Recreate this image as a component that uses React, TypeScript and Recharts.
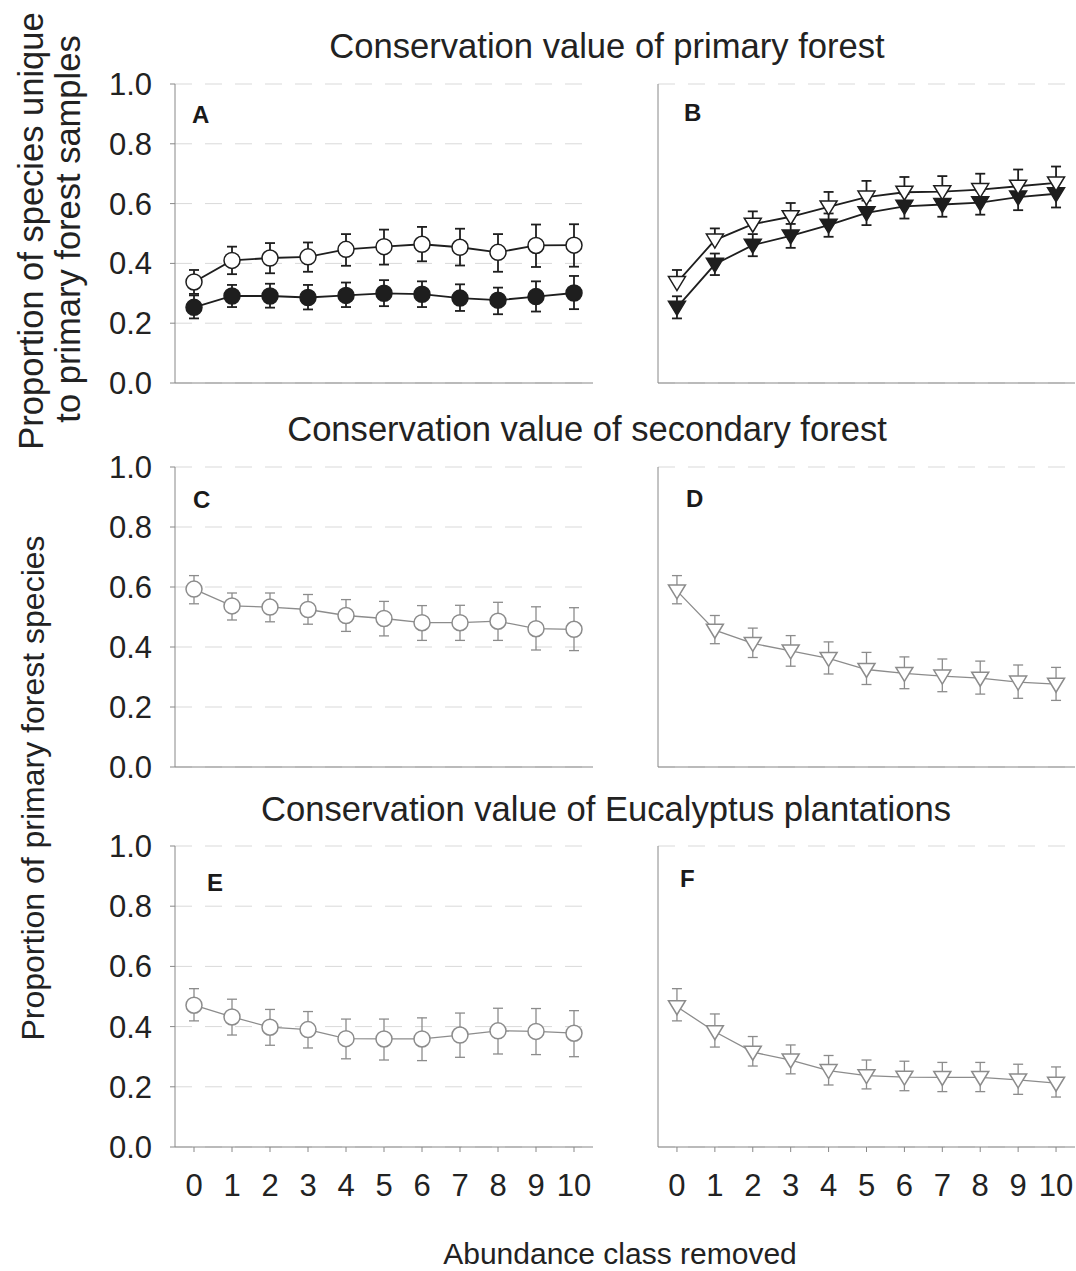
import React from 'react';
import { LineChart, Line, XAxis, YAxis, CartesianGrid, ErrorBar } from 'recharts';

// x categories and y ticks
const abundanceClasses = [0, 1, 2, 3, 4, 5, 6, 7, 8, 9, 10];
const yTicks = [0, 0.2, 0.4, 0.6, 0.8, 1.0];

// Panel A: primary forest, circles
const aOpenMean = [0.338, 0.41, 0.418, 0.422, 0.447, 0.456, 0.464, 0.454, 0.437, 0.46, 0.461];
const aOpenHigh = [0.378, 0.456, 0.468, 0.47, 0.498, 0.513, 0.522, 0.516, 0.498, 0.53, 0.531];
const aOpenLow = [0.298, 0.364, 0.367, 0.372, 0.392, 0.396, 0.407, 0.393, 0.372, 0.388, 0.389];
const aFilledMean = [0.253, 0.291, 0.291, 0.286, 0.293, 0.3, 0.297, 0.284, 0.277, 0.289, 0.301];
const aFilledHigh = [0.293, 0.328, 0.332, 0.328, 0.336, 0.344, 0.34, 0.33, 0.319, 0.34, 0.358];
const aFilledLow = [0.216, 0.254, 0.252, 0.246, 0.254, 0.257, 0.254, 0.241, 0.23, 0.239, 0.247];

// Panel B: primary forest, triangles
const bOpenMean = [0.336, 0.478, 0.531, 0.556, 0.589, 0.622, 0.638, 0.64, 0.647, 0.658, 0.669];
const bOpenHigh = [0.378, 0.517, 0.574, 0.602, 0.639, 0.676, 0.689, 0.692, 0.7, 0.714, 0.724];
const bFilledMean = [0.253, 0.397, 0.461, 0.492, 0.528, 0.569, 0.591, 0.597, 0.603, 0.622, 0.633];
const bFilledLow = [0.216, 0.361, 0.424, 0.452, 0.489, 0.528, 0.55, 0.556, 0.563, 0.578, 0.587];

// Panel C: secondary forest, circles
const cMean = [0.593, 0.537, 0.533, 0.525, 0.505, 0.495, 0.481, 0.481, 0.486, 0.461, 0.459];
const cHigh = [0.638, 0.58, 0.58, 0.575, 0.558, 0.552, 0.538, 0.539, 0.549, 0.534, 0.531];
const cLow = [0.544, 0.49, 0.484, 0.476, 0.452, 0.437, 0.422, 0.422, 0.422, 0.39, 0.388];

// Panel D: secondary forest, triangles
const dMean = [0.587, 0.456, 0.412, 0.387, 0.362, 0.325, 0.312, 0.303, 0.296, 0.283, 0.276];
const dHigh = [0.638, 0.505, 0.463, 0.438, 0.417, 0.382, 0.367, 0.36, 0.353, 0.34, 0.332];
const dLow = [0.544, 0.411, 0.365, 0.336, 0.31, 0.275, 0.261, 0.251, 0.243, 0.229, 0.222];

// Panel E: Eucalyptus, circles
const eMean = [0.471, 0.432, 0.398, 0.39, 0.36, 0.359, 0.359, 0.372, 0.386, 0.384, 0.378];
const eHigh = [0.526, 0.491, 0.457, 0.45, 0.425, 0.425, 0.429, 0.445, 0.461, 0.46, 0.453];
const eLow = [0.419, 0.372, 0.338, 0.329, 0.293, 0.289, 0.287, 0.298, 0.309, 0.307, 0.3];

// Panel F: Eucalyptus, triangles
const fMean = [0.466, 0.383, 0.315, 0.289, 0.254, 0.237, 0.232, 0.231, 0.231, 0.223, 0.212];
const fHigh = [0.526, 0.442, 0.367, 0.339, 0.304, 0.289, 0.285, 0.281, 0.281, 0.275, 0.266];
const fLow = [0.419, 0.332, 0.269, 0.243, 0.206, 0.193, 0.187, 0.184, 0.184, 0.175, 0.166];

const FONT = "'Liberation Sans', Arial, sans-serif";
const DARK = '#1e1e1e';
const GREY = '#8c8c8c';

interface Series {
  key: string;
  mean: number[];
  low: number[];
  high: number[];
  marker: 'circle' | 'triangle';
  filled: boolean;
  color: string;
  width: number;
}

const makeDot = (s: Series) => (props: any) => {
  const { cx, cy, index } = props;
  if (cx == null || cy == null) return <g key={index} />;
  const fill = s.filled ? s.color : '#fff';
  if (s.marker === 'circle') {
    return <circle key={index} cx={cx} cy={cy} r={8} fill={fill} stroke={s.color} strokeWidth={1.5} />;
  }
  return (
    <polygon
      key={index}
      points={`${cx - 8.5},${cy - 6} ${cx + 8.5},${cy - 6} ${cx},${cy + 8}`}
      fill={fill}
      stroke={s.color}
      strokeWidth={1.5}
    />
  );
};

interface PanelProps {
  left: number;
  top: number;
  width: number;
  height: number;
  yAxisWidth: number;
  marginRight: number;
  xAxisHeight: number;
  showYLabels: boolean;
  showXLabels: boolean;
  series: Series[];
}

const Panel: React.FC<PanelProps> = ({ left, top, width, height, yAxisWidth, marginRight, xAxisHeight, showYLabels, showXLabels, series }) => {
  const rows = abundanceClasses.map((x, i) => {
    const row: any = { x };
    series.forEach(s => {
      row[s.key] = s.mean[i];
      row[s.key + 'Err'] = [s.mean[i] - s.low[i], s.high[i] - s.mean[i]];
    });
    return row;
  });
  const tickStyle = { fontSize: 31, fill: '#222', fontFamily: FONT };
  return (
    <div style={{ position: 'absolute', left, top }}>
      <LineChart width={width} height={height} data={rows} margin={{ top: 24, right: marginRight, left: 0, bottom: 0 }}>
        <CartesianGrid vertical={false} stroke="#d9d9d9" strokeDasharray="17 13" />
        <XAxis
          type="number"
          dataKey="x"
          domain={[-0.5, 10.5]}
          ticks={abundanceClasses}
          interval={0}
          height={xAxisHeight}
          tickSize={5}
          tickMargin={22}
          axisLine={{ stroke: '#888' }}
          tickLine={{ stroke: '#888' }}
          tick={showXLabels ? tickStyle : false}
        />
        <YAxis
          type="number"
          domain={[0, 1]}
          ticks={yTicks}
          interval={0}
          allowDataOverflow
          width={yAxisWidth}
          tickSize={5}
          tickMargin={18}
          axisLine={{ stroke: '#888' }}
          tickLine={{ stroke: '#888' }}
          tickFormatter={(v: number) => v.toFixed(1)}
          tick={showYLabels ? tickStyle : false}
        />
        {series.map(s => (
          <Line
            key={s.key}
            type="linear"
            dataKey={s.key}
            stroke={s.color}
            strokeWidth={s.width}
            dot={makeDot(s)}
            activeDot={false}
            isAnimationActive={false}
          >
            <ErrorBar dataKey={s.key + 'Err'} direction="y" width={5} stroke={s.color} strokeWidth={s.width} />
          </Line>
        ))}
      </LineChart>
    </div>
  );
};

const symmetricHigh = (mean: number[], low: number[]) => mean.map((m, i) => m + (m - low[i]));

const panelA: Series[] = [
  { key: 'aFilled', mean: aFilledMean, low: aFilledLow, high: aFilledHigh, marker: 'circle', filled: true, color: DARK, width: 1.8 },
  { key: 'aOpen', mean: aOpenMean, low: aOpenLow, high: aOpenHigh, marker: 'circle', filled: false, color: DARK, width: 1.8 },
];
const panelB: Series[] = [
  { key: 'bFilled', mean: bFilledMean, low: bFilledLow, high: symmetricHigh(bFilledMean, bFilledLow), marker: 'triangle', filled: true, color: DARK, width: 1.8 },
  { key: 'bOpen', mean: bOpenMean, low: bOpenMean, high: bOpenHigh, marker: 'triangle', filled: false, color: DARK, width: 1.8 },
];
const panelC: Series[] = [{ key: 'c', mean: cMean, low: cLow, high: cHigh, marker: 'circle', filled: false, color: GREY, width: 1.3 }];
const panelD: Series[] = [{ key: 'd', mean: dMean, low: dLow, high: dHigh, marker: 'triangle', filled: false, color: GREY, width: 1.3 }];
const panelE: Series[] = [{ key: 'e', mean: eMean, low: eLow, high: eHigh, marker: 'circle', filled: false, color: GREY, width: 1.3 }];
const panelF: Series[] = [{ key: 'f', mean: fMean, low: fLow, high: fHigh, marker: 'triangle', filled: false, color: GREY, width: 1.3 }];

const App: React.FC = () => {
  const titleStyle = { fontFamily: FONT, fontSize: 34.6, fill: '#222' };
  const letterStyle = { fontFamily: FONT, fontSize: 24, fontWeight: 700, fill: '#1a1a1a' };
  const yLabelTop = { fontFamily: FONT, fontSize: 34.5, fill: '#222' };
  const yLabelBottom = { fontFamily: FONT, fontSize: 32, fill: '#222' };
  const xLabel = { fontFamily: FONT, fontSize: 30, fill: '#222' };
  return (
    <div style={{ position: 'absolute', left: 0, top: 0, width: 1076, height: 1271, background: '#fff', overflow: 'hidden' }}>
      <Panel left={0} top={60} width={600} height={345} yAxisWidth={175} marginRight={7} xAxisHeight={22} showYLabels showXLabels={false} series={panelA} />
      <Panel left={600} top={60} width={476} height={345} yAxisWidth={58} marginRight={1} xAxisHeight={22} showYLabels={false} showXLabels={false} series={panelB} />
      <Panel left={0} top={443} width={600} height={346} yAxisWidth={175} marginRight={7} xAxisHeight={22} showYLabels showXLabels={false} series={panelC} />
      <Panel left={600} top={443} width={476} height={346} yAxisWidth={58} marginRight={1} xAxisHeight={22} showYLabels={false} showXLabels={false} series={panelD} />
      <Panel left={0} top={822} width={600} height={385} yAxisWidth={175} marginRight={7} xAxisHeight={60} showYLabels showXLabels series={panelE} />
      <Panel left={600} top={822} width={476} height={385} yAxisWidth={58} marginRight={1} xAxisHeight={60} showYLabels={false} showXLabels series={panelF} />
      <svg width={1076} height={1271} style={{ position: 'absolute', left: 0, top: 0, pointerEvents: 'none' }}>
        <text x={607} y={58} textAnchor="middle" style={titleStyle}>Conservation value of primary forest</text>
        <text x={587} y={441} textAnchor="middle" style={titleStyle}>Conservation value of secondary forest</text>
        <text x={606} y={821} textAnchor="middle" style={titleStyle}>Conservation value of Eucalyptus plantations</text>

        <text x={192} y={123} style={letterStyle}>A</text>
        <text x={684} y={121} style={letterStyle}>B</text>
        <text x={193} y={508} style={letterStyle}>C</text>
        <text x={686} y={507} style={letterStyle}>D</text>
        <text x={207} y={891} style={letterStyle}>E</text>
        <text x={680} y={887} style={letterStyle}>F</text>

        <text transform="translate(43,231) rotate(-90)" textAnchor="middle" style={yLabelTop}>Proportion of species unique</text>
        <text transform="translate(80,229) rotate(-90)" textAnchor="middle" style={yLabelTop}>to primary forest samples</text>
        <text transform="translate(44,788) rotate(-90)" textAnchor="middle" style={yLabelBottom}>Proportion of primary forest species</text>
        <text x={620} y={1264} textAnchor="middle" style={xLabel}>Abundance class removed</text>
      </svg>
    </div>
  );
};

export default App;
